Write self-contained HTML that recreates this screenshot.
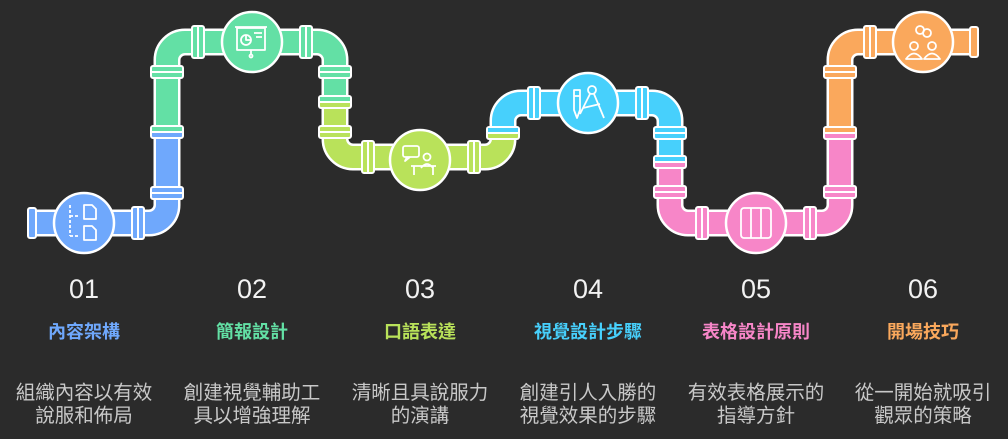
<!DOCTYPE html>
<html><head><meta charset="utf-8"><style>
html,body{margin:0;padding:0;background:#2b2b2b;}
svg{display:block}
text{font-family:"Liberation Sans","Noto Sans CJK TC",sans-serif;}
</style></head><body>
<svg width="1008" height="439" viewBox="0 0 1008 439" xmlns="http://www.w3.org/2000/svg">
<rect width="1008" height="439" fill="#2b2b2b"/>
<path d="M30,223 H149 A18,18 0 0 0 167,205 V60 A18,18 0 0 1 185,42 H317 A18,18 0 0 1 335,60 V139 A18,18 0 0 0 353,157 H485 A18,18 0 0 0 503,139 V121 A18,18 0 0 1 521,103 H652 A18,18 0 0 1 670,121 V205 A18,18 0 0 0 688,223 H822 A18,18 0 0 0 840,205 V60 A18,18 0 0 1 858,42 H975" fill="none" stroke="#fff" stroke-width="27"/>
<g fill="none" stroke-width="22">
<path d="M30,223 H149 A18,18 0 0 0 167,205 V132" stroke="#6fa8fc"/>
<path d="M167,132 V60 A18,18 0 0 1 185,42 H317 A18,18 0 0 1 335,60 V102" stroke="#63e0a5"/>
<path d="M335,102 V139 A18,18 0 0 0 353,157 H485 A18,18 0 0 0 503,139 V133" stroke="#b9e25a"/>
<path d="M503,133 V121 A18,18 0 0 1 521,103 H652 A18,18 0 0 1 670,121 V162" stroke="#47d0fc"/>
<path d="M670,162 V205 A18,18 0 0 0 688,223 H822 A18,18 0 0 0 840,205 V133" stroke="#f786c8"/>
<path d="M840,133 V60 A18,18 0 0 1 858,42 H975" stroke="#faa85c"/>
</g>
<g stroke="#fff" stroke-width="2">
<rect x="28" y="208" width="8" height="30" rx="2" fill="#6fa8fc"/>
<rect x="970" y="27" width="8" height="30" rx="2" fill="#faa85c"/>
<rect x="132" y="207" width="12" height="32" rx="2" fill="#6fa8fc"/><line x1="138" y1="207" x2="138" y2="239"/>
<rect x="192" y="26" width="12" height="32" rx="2" fill="#63e0a5"/><line x1="198" y1="26" x2="198" y2="58"/>
<rect x="300" y="26" width="12" height="32" rx="2" fill="#63e0a5"/><line x1="306" y1="26" x2="306" y2="58"/>
<rect x="362" y="141" width="12" height="32" rx="2" fill="#b9e25a"/><line x1="368" y1="141" x2="368" y2="173"/>
<rect x="468" y="141" width="12" height="32" rx="2" fill="#b9e25a"/><line x1="474" y1="141" x2="474" y2="173"/>
<rect x="528" y="87" width="12" height="32" rx="2" fill="#47d0fc"/><line x1="534" y1="87" x2="534" y2="119"/>
<rect x="636" y="87" width="12" height="32" rx="2" fill="#47d0fc"/><line x1="642" y1="87" x2="642" y2="119"/>
<rect x="696" y="207" width="12" height="32" rx="2" fill="#f786c8"/><line x1="702" y1="207" x2="702" y2="239"/>
<rect x="804" y="207" width="12" height="32" rx="2" fill="#f786c8"/><line x1="810" y1="207" x2="810" y2="239"/>
<rect x="864" y="26" width="12" height="32" rx="2" fill="#faa85c"/><line x1="870" y1="26" x2="870" y2="58"/>
<rect x="151" y="187" width="32" height="12" rx="2" fill="#6fa8fc"/><line x1="151" y1="193" x2="183" y2="193"/>
<rect x="151" y="66" width="32" height="12" rx="2" fill="#63e0a5"/><line x1="151" y1="72" x2="183" y2="72"/>
<rect x="319" y="66" width="32" height="12" rx="2" fill="#63e0a5"/><line x1="319" y1="72" x2="351" y2="72"/>
<rect x="319" y="126" width="32" height="12" rx="2" fill="#b9e25a"/><line x1="319" y1="132" x2="351" y2="132"/>
<rect x="654" y="186" width="32" height="12" rx="2" fill="#f786c8"/><line x1="654" y1="192" x2="686" y2="192"/>
<rect x="654" y="127" width="32" height="12" rx="2" fill="#47d0fc"/><line x1="654" y1="133" x2="686" y2="133"/>
<rect x="824" y="186" width="32" height="12" rx="2" fill="#f786c8"/><line x1="824" y1="192" x2="856" y2="192"/>
<rect x="824" y="66" width="32" height="12" rx="2" fill="#faa85c"/><line x1="824" y1="72" x2="856" y2="72"/>
<rect x="151" y="126" width="32" height="12" rx="2" fill="#6fa8fc"/><rect x="152" y="127" width="30" height="5" fill="#63e0a5" stroke="none"/><line x1="151" y1="132" x2="183" y2="132"/>
<rect x="319" y="96" width="32" height="12" rx="2" fill="#b9e25a"/><rect x="320" y="97" width="30" height="5" fill="#63e0a5" stroke="none"/><line x1="319" y1="102" x2="351" y2="102"/>
<rect x="487" y="127" width="32" height="12" rx="2" fill="#b9e25a"/><rect x="488" y="128" width="30" height="5" fill="#47d0fc" stroke="none"/><line x1="487" y1="133" x2="519" y2="133"/>
<rect x="654" y="156" width="32" height="12" rx="2" fill="#f786c8"/><rect x="655" y="157" width="30" height="5" fill="#47d0fc" stroke="none"/><line x1="654" y1="162" x2="686" y2="162"/>
<rect x="824" y="127" width="32" height="12" rx="2" fill="#f786c8"/><rect x="825" y="128" width="30" height="5" fill="#faa85c" stroke="none"/><line x1="824" y1="133" x2="856" y2="133"/>
</g>
<g stroke="#fff" stroke-width="2.5">
<circle cx="84" cy="223" r="30" fill="#6fa8fc"/>
<circle cx="252" cy="42" r="30" fill="#63e0a5"/>
<circle cx="420" cy="160" r="30" fill="#b9e25a"/>
<circle cx="588" cy="103" r="30" fill="#47d0fc"/>
<circle cx="756" cy="223" r="30" fill="#f786c8"/>
<circle cx="923" cy="42" r="30" fill="#faa85c"/>
</g>
<g fill="none" stroke="#fff" stroke-width="1.8" stroke-linejoin="round">
<path d="M70,205 V236 M70,216 H80 M70,236 H80" stroke-dasharray="3,2"/>
<path d="M84,205 H92 L96,209 V219 H84 Z M84,226 H92 L96,230 V240 H84 Z"/>
<rect x="237" y="28" width="28" height="22"/><line x1="235" y1="27" x2="267" y2="27"/><circle cx="246" cy="40" r="5"/><path d="M246,35 V40 H251"/><path d="M254,33 H262 M256,37 H262"/><path d="M251,50 V55"/><circle cx="251" cy="56" r="1.5"/>
<rect x="403" y="146" width="16" height="11" rx="2"/><path d="M407,157 L405,161 L410,157"/><circle cx="427" cy="157" r="3.5"/><path d="M421,168 Q427,160 433,168 M411,166 H436 M414,166 V175 M433,166 V175"/>
<path d="M574,90 V110 L577,118 L580,110 V90 Z M574,96 H580"/><circle cx="592" cy="90" r="4"/><path d="M590,94 L580,114 M594,94 L604,118 M583,108 L600,104"/>
<rect x="741" y="208" width="30" height="30" rx="3"/><path d="M751,208 V238 M761,208 V238"/>
<circle cx="920" cy="30" r="4"/><circle cx="927" cy="33" r="4"/><circle cx="914" cy="46" r="4"/><circle cx="932" cy="46" r="4"/><path d="M906,59 Q914,48 922,59 Z M924,59 Q932,48 940,59 Z"/>
</g>
<g text-anchor="middle">
<g font-size="27" fill="#f2f2f2" font-weight="300">
<text x="84" y="298">01</text><text x="252" y="298">02</text><text x="420" y="298">03</text><text x="588" y="298">04</text><text x="756" y="298">05</text><text x="923" y="298">06</text>
</g>
<g font-size="18" font-weight="bold">
<text x="84" y="338" fill="#6fa8fc">內容架構</text>
<text x="252" y="338" fill="#63e0a5">簡報設計</text>
<text x="420" y="338" fill="#b9e25a">口語表達</text>
<text x="588" y="338" fill="#47d0fc">視覺設計步驟</text>
<text x="756" y="338" fill="#f786c8">表格設計原則</text>
<text x="923" y="338" fill="#faa85c">開場技巧</text>
</g>
<g font-size="19.5" fill="#c8c8c8">
<text x="84" y="399">組織內容以有效</text><text x="84" y="422">說服和佈局</text>
<text x="252" y="399">創建視覺輔助工</text><text x="252" y="422">具以增強理解</text>
<text x="420" y="399">清晰且具說服力</text><text x="420" y="422">的演講</text>
<text x="588" y="399">創建引人入勝的</text><text x="588" y="422">視覺效果的步驟</text>
<text x="756" y="399">有效表格展示的</text><text x="756" y="422">指導方針</text>
<text x="923" y="399">從一開始就吸引</text><text x="923" y="422">觀眾的策略</text>
</g>
</g>
</svg>
</body></html>
